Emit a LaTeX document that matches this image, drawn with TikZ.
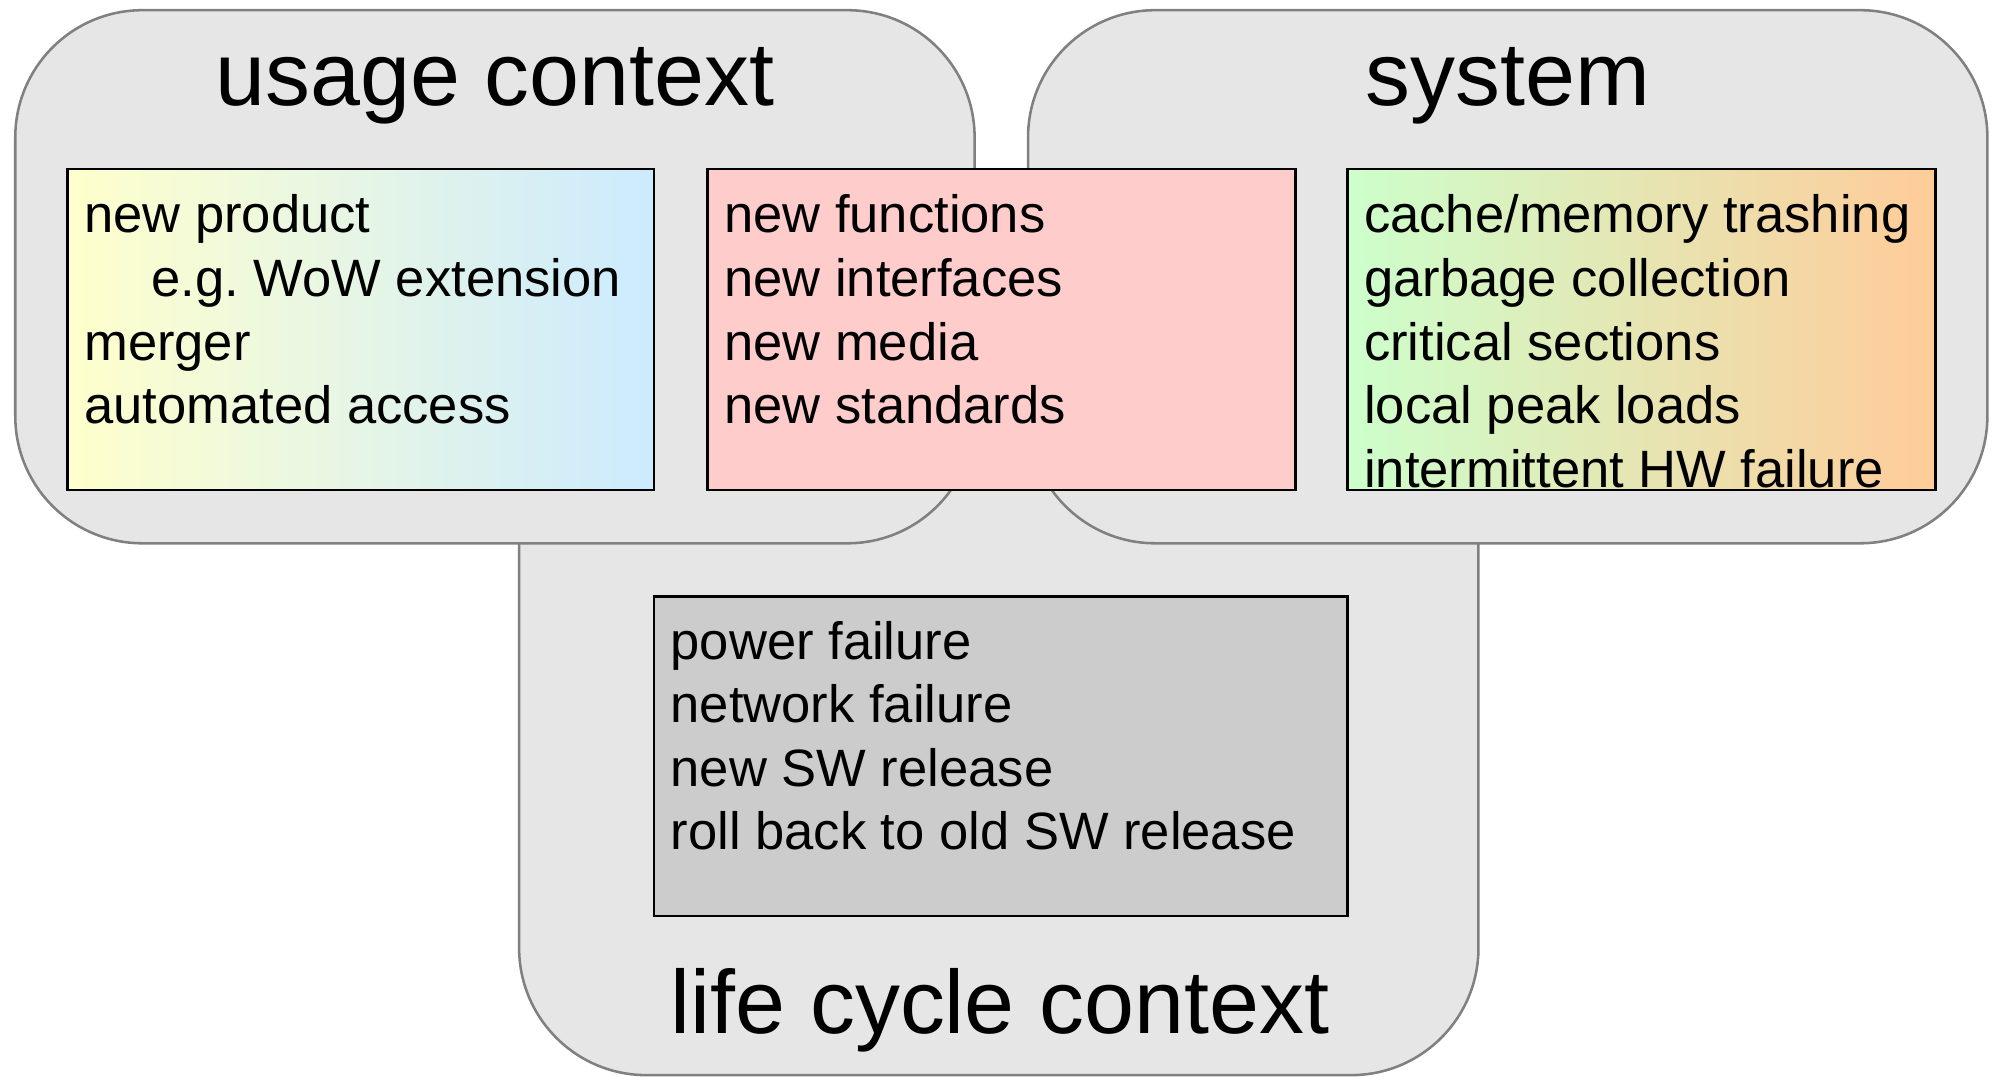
\documentclass[tikz,border=0pt]{standalone}
\usepackage{fontspec}
\setmainfont{Liberation Sans}
\definecolor{areafill}{HTML}{E6E6E6}
\definecolor{areadraw}{HTML}{808080}
\definecolor{ylw}{HTML}{FFFFCC}
\definecolor{blu}{HTML}{CCEBFF}
\definecolor{grn}{HTML}{CCFFCC}
\definecolor{org}{HTML}{FFCC99}
\definecolor{rd}{HTML}{FFCCCC}
\definecolor{gr}{HTML}{CCCCCC}
\tikzset{
  area/.style={fill=areafill, draw=areadraw, line width=2pt, rounded corners=100pt},
  listbox/.style={draw=black, line width=2pt},
  title/.style={font=\fontsize{70.6}{80}\selectfont, anchor=base, inner sep=0pt},
  listtext/.style={font=\fontsize{41.3}{50}\selectfont, anchor=base west, align=left, inner sep=0pt},
}
\begin{document}
\begin{tikzpicture}[x=1pt,y=-1pt]
\useasboundingbox (0,0) rectangle (1568,846);
% big areas
\path[area] (408,300) rectangle (1162,845);
\path[area] (12,8) rectangle (766,427);
\path[area] (808,8) rectangle (1562,427);
% titles
\node[title] (tu) at (389,83) {usage context};
\node[title] (ts) at (1185,83) {system};
\node[title] (tl) at (786,812) {life cycle context};
% inner boxes
\path[listbox, shading=axis, left color=ylw, right color=blu] (53,133) rectangle (514,385);
\path[listbox, fill=rd] (556,133) rectangle (1018,385);
\path[listbox, shading=axis, left color=grn, right color=org] (1059,133) rectangle (1521,385);
\path[listbox, fill=gr] (514,469) rectangle (1059,720);
% texts (anchor = baseline of last line)
\node[listtext] (lu) at (66,333) {new product\\\hspace*{53pt}e.g.\ WoW extension\\merger\\automated access};
\node[listtext] (lr) at (569,333) {new functions\\new interfaces\\new media\\new standards};
\node[listtext] (ls) at (1072,383) {cache/memory trashing\\garbage collection\\critical sections\\local peak loads\\intermittent HW failure};
\node[listtext] (ll) at (527,668) {power failure\\network failure\\new SW release\\roll back to old SW release};
\end{tikzpicture}
\end{document}
